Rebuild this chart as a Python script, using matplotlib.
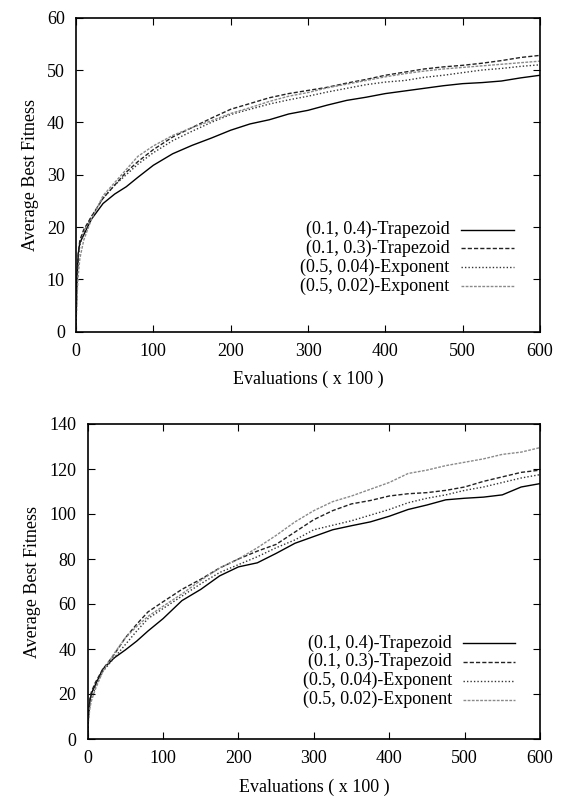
import matplotlib
matplotlib.use("Agg")
import matplotlib.pyplot as plt
from matplotlib.lines import Line2D

plt.rcParams['font.family'] = ['Liberation Serif', 'DejaVu Serif']
plt.rcParams['font.size'] = 13

labels = ["(0.1, 0.4)-Trapezoid", "(0.1, 0.3)-Trapezoid",
          "(0.5, 0.04)-Exponent", "(0.5, 0.02)-Exponent"]

x_eval = [0, 1, 3, 5, 10, 20, 35, 50, 65, 80, 100, 125, 150, 175, 200, 225, 250,
          275, 300, 325, 350, 375, 400, 425, 450, 475, 500, 525, 550, 575, 600]

# Top chart
top_trap04 = [0, 10, 15, 17, 18.5, 21.5, 24.5, 26.3, 27.7, 29.5, 31.8, 34, 35.6, 37, 38.5, 39.7,
              40.5, 41.6, 42.3, 43.3, 44.2, 44.8, 45.5, 46, 46.5, 47, 47.4, 47.6, 47.9, 48.5, 49]
top_trap03 = [0, 9, 15, 17.5, 19.5, 22, 25.5, 28, 30.5, 32.5, 34.8, 37.2, 39, 40.8, 42.5, 43.6,
              44.7, 45.5, 46.1, 46.7, 47.5, 48.2, 49, 49.6, 50.2, 50.6, 50.9, 51.3, 51.8, 52.4, 52.8]
top_exp004 = [0, 8, 14, 16.5, 19, 22, 25.5, 28, 30, 32, 34.2, 36.5, 38.3, 40, 41.5, 42.5,
              43.5, 44.3, 45, 45.8, 46.5, 47.2, 47.7, 48, 48.6, 49, 49.5, 50, 50.3, 50.7, 51]
top_exp002 = [0, 6, 11, 14, 17.5, 21.5, 26, 28.5, 31, 33.5, 35.5, 37.5, 39, 40.3, 41.7, 42.8,
              44, 45, 45.7, 46.6, 47.3, 48, 48.7, 49.3, 49.8, 50.2, 50.5, 50.8, 51.1, 51.4, 51.7]

# Bottom chart
bot_trap04 = [0, 10, 17, 20.3, 24, 31, 36, 39.6, 43.5, 48, 53.5, 61.5, 66.5, 72.5, 76.5, 78.3,
              82.5, 87, 90, 93, 94.8, 96.5, 99, 102, 104, 106.3, 107, 107.5, 108.5, 112, 113.5]
bot_trap03 = [0, 12, 18, 21, 25, 31, 37.5, 45, 51, 56.5, 61, 66.5, 71, 76, 80, 83.5,
              86.5, 92, 97.5, 101.5, 104.5, 106, 108, 109, 109.5, 110.5, 112, 114.5, 116.5, 118.5, 119.5]
bot_exp004 = [0, 10, 15, 18, 23, 30, 36, 42, 48, 53.5, 58, 63.5, 69, 74, 77.5, 81,
              85, 88.5, 93, 95, 97, 99.5, 102, 105, 107, 108.5, 110.5, 112, 114, 116, 117.5]
bot_exp002 = [0, 8, 14, 17, 22, 30, 38, 45, 50, 54.5, 59, 64.5, 70.5, 76, 80, 85,
              90.5, 96.5, 101.5, 105.5, 108, 111, 114, 118, 119.5, 121.5, 123, 124.5, 126.5, 127.5, 129.5]

styles = [
    dict(color='black', lw=1.0, ls='-'),
    dict(color='#222222', lw=1.0, ls=(0, (3, 1.5))),
    dict(color='#333333', lw=1.0, ls=(0, (1, 1.5))),
    dict(color='#8a8a8a', lw=1.0, ls=(0, (2, 1))),
]

fig = plt.figure(figsize=(5.61, 8.0), dpi=100)
ax1 = fig.add_axes([76/561, 1 - 331.7/800, (540 - 76)/561, (331.7 - 17.7)/800])
ax2 = fig.add_axes([87.7/561, 1 - 739/800, (540 - 87.7)/561, (739 - 424)/800])


def draw(ax, series, ymax, ystep, legend_y):
    for s, st in zip(series, styles):
        ax.plot(x_eval, s, **st)
    ax.set_xlim(0, 600)
    ax.set_ylim(0, ymax)
    ax.set_xticks(range(0, 601, 100))
    ax.set_yticks(range(0, ymax + 1, ystep))
    ax.tick_params(direction='in', top=True, right=True, length=5, width=0.8, pad=8, labelsize=13)
    for sp in ax.spines.values():
        sp.set_linewidth(1.2)
    ax.set_xlabel("Evaluations ( x 100 )", fontsize=13, labelpad=8)
    ax.set_ylabel("Average Best Fitness", fontsize=13, labelpad=6)
    # gnuplot-style key: right-aligned text, sample to the right
    for i, (lab, st) in enumerate(zip(labels, styles)):
        yy = legend_y - i * 0.06
        ax.text(0.805, yy, lab, transform=ax.transAxes, ha='right', va='center', fontsize=13)
        ax.add_line(Line2D([0.83, 0.945], [yy, yy], transform=ax.transAxes, **st))


draw(ax1, [top_trap04, top_trap03, top_exp004, top_exp002], 60, 10, 0.325)
draw(ax2, [bot_trap04, bot_trap03, bot_exp004, bot_exp002], 140, 20, 0.305)

fig.savefig("out.png", dpi=100)
